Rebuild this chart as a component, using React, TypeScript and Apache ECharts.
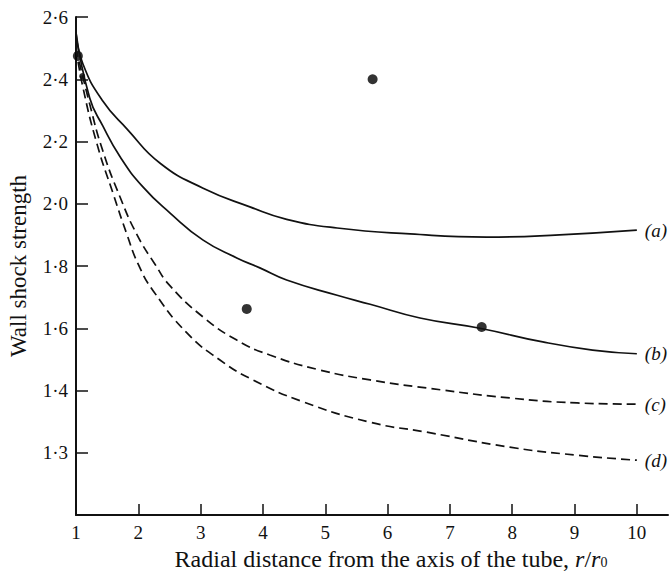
import React, { useEffect, useRef } from "react";
import * as echarts from "echarts";

// X axis ticks (r / r0)
const xTicks = [1, 2, 3, 4, 5, 6, 7, 8, 9, 10];
// Y axis: evenly spaced ticks carrying non-linear values
const yTickValues = [1.2, 1.3, 1.4, 1.6, 1.8, 2.0, 2.2, 2.4, 2.6];
const yTickLabels = ["", "1·3", "1·4", "1·6", "1·8", "2·0", "2·2", "2·4", "2·6"];

// Curve (a) – solid
const aX = [1, 1.11, 1.43, 1.82, 2.35, 3.04, 3.79, 4.38, 5.19, 6.36, 7.59, 8.76, 10];
const aY = [2.55, 2.45, 2.33, 2.24, 2.13, 2.05, 1.99, 1.95, 1.922, 1.903, 1.893, 1.9, 1.915];
// Curve (b) – solid
const bX = [1, 1.22, 1.43, 1.71, 2.07, 2.51, 3.04, 3.58, 3.95, 4.38, 5.19, 5.72, 6.52, 7.48, 8.49, 9.29, 10];
const bY = [2.55, 2.34, 2.25, 2.15, 2.055, 1.97, 1.883, 1.826, 1.794, 1.755, 1.706, 1.677, 1.633, 1.6, 1.556, 1.53, 1.518];
// Curve (c) – dashed
const cX = [1, 1.22, 1.43, 1.71, 1.98, 2.27, 2.51, 3.04, 3.58, 4.11, 4.91, 5.72, 6.63, 7.96, 9.04, 10];
const cY = [2.5, 2.32, 2.17, 2.02, 1.9, 1.805, 1.736, 1.636, 1.562, 1.514, 1.466, 1.434, 1.408, 1.388, 1.38, 1.378];
// Curve (d) – dashed
const dX = [1, 1.11, 1.34, 1.6, 1.82, 2.0, 2.24, 2.78, 3.31, 3.84, 4.64, 5.72, 6.63, 7.96, 9.04, 10];
const dY = [2.5, 2.375, 2.19, 2.03, 1.9, 1.805, 1.72, 1.585, 1.498, 1.434, 1.382, 1.349, 1.333, 1.309, 1.296, 1.288];

// Experimental points
const dotX = [5.76, 3.74, 7.51, 1.03];
const dotY = [2.4, 1.662, 1.604, 2.475];
const smallDotX = [1.1];
const smallDotY = [2.41];

const curveLabels = ["(a)", "(b)", "(c)", "(d)"];

function toAxis(v: number): number {
  const t = yTickValues;
  if (v <= t[0]) return 0;
  for (let i = 0; i < t.length - 1; i++) {
    if (v <= t[i + 1]) return i + (v - t[i]) / (t[i + 1] - t[i]);
  }
  return t.length - 1;
}

const FONT = "Liberation Serif";

export default function App() {
  const ref = useRef<HTMLDivElement>(null);
  useEffect(() => {
    if (!ref.current) return;
    const chart = echarts.init(ref.current, undefined, { renderer: "svg" });
    const mk = (xs: number[], ys: number[]) => xs.map((x, i) => [x, toAxis(ys[i])]);
    const lineSeries = (xs: number[], ys: number[], dashed: boolean, label: string) => ({
      type: "line",
      data: mk(xs, ys),
      smooth: 0.5,
      showSymbol: false,
      symbol: "none",
      clip: false,
      lineStyle: {
        color: "#111",
        width: 1.7,
        type: dashed ? [9, 5] : "solid",
      },
      endLabel: {
        show: true,
        formatter: label,
        distance: 8,
        color: "#111",
        fontFamily: FONT,
        fontStyle: "italic",
        fontSize: 19,
      },
    });
    chart.setOption({
      animation: false,
      backgroundColor: "#fff",
      grid: { left: 76, top: 17, right: 3, bottom: 57, containLabel: false, outerBoundsMode: "none" },
      xAxis: {
        type: "value",
        min: 1,
        max: 10.5,
        interval: 1,
        splitLine: { show: false },
        axisLine: { show: true, onZero: false, lineStyle: { color: "#111", width: 2 } },
        axisTick: { show: true, inside: true, length: 11, customValues: xTicks, lineStyle: { color: "#111", width: 1.5 } },
        axisLabel: {
          customValues: xTicks,
          margin: 8,
          color: "#111",
          fontFamily: FONT,
          fontSize: 19,
          formatter: (v: number) => (Number.isInteger(v) && v <= 10 ? String(v) : ""),
        },
        name: "Radial distance from the axis of the tube, {i|r}/{i|r}{s|0}",
        nameLocation: "middle",
        nameGap: 32,
        nameTextStyle: {
          color: "#111",
          fontFamily: FONT,
          fontSize: 24,
          padding: [0, 0, 0, 38],
          rich: {
            i: { fontStyle: "italic", fontFamily: FONT, fontSize: 24, color: "#111" },
            s: { fontFamily: FONT, fontSize: 14, color: "#111", padding: [6, 0, 0, 0] },
          },
        },
      },
      yAxis: {
        type: "value",
        min: 0,
        max: 8,
        interval: 1,
        splitLine: { show: false },
        axisLine: { show: true, onZero: false, lineStyle: { color: "#111", width: 2 } },
        axisTick: { show: true, inside: true, length: 12, customValues: [1, 2, 3, 4, 5, 6, 7, 8], lineStyle: { color: "#111", width: 1.5 } },
        axisLabel: {
          customValues: [1, 2, 3, 4, 5, 6, 7, 8],
          margin: 8,
          color: "#111",
          fontFamily: FONT,
          fontSize: 19,
          formatter: (v: number) => yTickLabels[Math.round(v)] ?? "",
        },
        name: "Wall shock strength",
        nameLocation: "middle",
        nameGap: 46,
        nameTextStyle: { color: "#111", fontFamily: FONT, fontSize: 23 },
      },
      series: [
        lineSeries(aX, aY, false, curveLabels[0]),
        lineSeries(bX, bY, false, curveLabels[1]),
        lineSeries(cX, cY, true, curveLabels[2]),
        lineSeries(dX, dY, true, curveLabels[3]),
        {
          type: "scatter",
          data: mk(dotX, dotY),
          symbol: "circle",
          symbolSize: 10,
          itemStyle: { color: "#000" },
        },
        {
          type: "scatter",
          data: mk(smallDotX, smallDotY),
          symbol: "circle",
          symbolSize: 6,
          itemStyle: { color: "#000" },
        },
      ],
    });
    return () => chart.dispose();
  }, []);
  return (
    <div
      ref={ref}
      style={{ position: "absolute", left: 0, top: 0, width: 671, height: 572, background: "#fff" }}
    />
  );
}
